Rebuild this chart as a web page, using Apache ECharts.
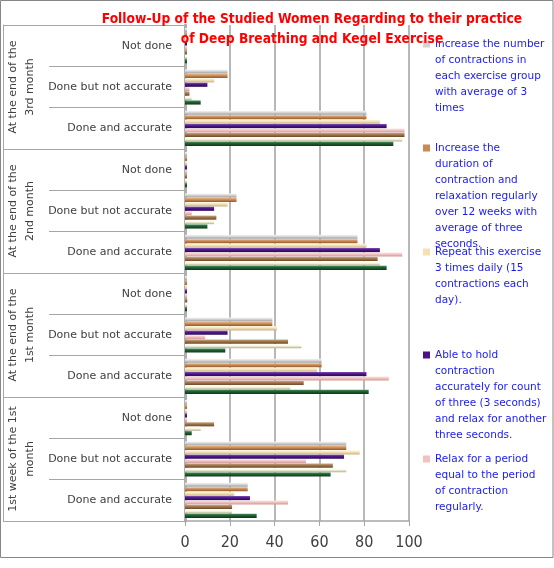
<!DOCTYPE html>
<html>
<head>
<meta charset="utf-8">
<script src="https://cdn.jsdelivr.net/npm/echarts@6/dist/echarts.min.js"></script>
<style>
  html, body { margin: 0; padding: 0; background: #fff; }
  #main { width: 554px; height: 568px; }
</style>
</head>
<body>
<div id="main"></div>
<script>
// categories (bottom to top, as drawn)
var groupLabels = [
  "1st week of the 1st\nmonth",
  "At the end of the\n1st month",
  "At the end of the\n2nd month",
  "At the end of the\n3rd month"
];
var subLabels = ["Done and accurate", "Done but not accurate", "Not done"];

// series names (top bar of each cluster first)
var seriesNames = [
  "Increase the number of contractions in each exercise group with average of 3 times",
  "Increase the duration of contraction and relaxation regularly over 12 weeks with average of three seconds.",
  "Repeat this exercise 3 times daily (15 contractions each day).",
  "Able to hold contraction accurately for count of three (3 seconds) and relax for another three seconds.",
  "Relax for a period equal to the period of contraction regularly.",
  "Item 6",
  "Item 7",
  "Item 8"
];
// legend text as it wraps in the picture
var legendLines = [
  ["Increase the number", "of contractions in", "each exercise group", "with average of 3", "times"],
  ["Increase the", "duration of", "contraction and", "relaxation regularly", "over 12 weeks with", "average of three", "seconds."],
  ["Repeat this exercise", "3 times daily (15", "contractions each", "day)."],
  ["Able to hold", "contraction", "accurately for count", "of three (3 seconds)", "and relax for another", "three seconds."],
  ["Relax for a period", "equal to the period", "of contraction", "regularly."]
];

// values (%), order: 1st week [DA, DBNA, ND], 1st month [...], 2nd month [...], 3rd month [...]
var increaseNumber   = [28, 72, 0, 61, 39, 0, 77, 23, 0, 81, 19, 0];
var increaseDuration = [28, 72, 0, 61, 39, 0, 77, 23, 0, 81, 19, 0];
var repeatDaily      = [22, 78, 0, 59, 41, 0, 81, 19, 0, 87, 13, 0];
var ableToHold       = [29, 71, 0, 81, 19, 0, 87, 13, 0, 90, 10, 0];
var relaxPeriod      = [46, 54, 0, 91, 9, 0, 97, 3, 0, 98, 2, 0];
var item6            = [21, 66, 13, 53, 46, 1, 86, 14, 0, 98, 2, 0];
var item7            = [21, 72, 7, 47, 52, 1, 87, 13, 0, 97, 3, 0];
var item8            = [32, 65, 3, 82, 18, 0, 90, 10, 0, 93, 7, 0];
var seriesValues = [increaseNumber, increaseDuration, repeatDaily, ableToHold, relaxPeriod, item6, item7, item8];

var xTicks = { min: 0, max: 100, interval: 20 };

// shades: highlight, base, shadow
var shades = [
  ["#f6f6f6", "#d4d4d4", "#9a9a9a"],
  ["#e9b68a", "#c98a55", "#8f5a2e"],
  ["#fff7df", "#f3e1b3", "#c6b285"],
  ["#7c4cb2", "#4b1486", "#2c0a52"],
  ["#fde6e4", "#f2c2bf", "#c99894"],
  ["#cba57e", "#9e744a", "#6b4a2a"],
  ["#ffffff", "#fbf7df", "#b3ae95"],
  ["#43905a", "#1f5c30", "#0f3a1b"]
];
var legendTops = [31, 135, 239, 342, 446];

var categories = [];
groupLabels.forEach(function () {
  subLabels.forEach(function (s) { categories.push(s); });
});

var lineGray = "#a6a6a6";
var labelFont = "'DejaVu Sans', sans-serif";
var narrowFont = "'Liberation Sans Narrow', 'DejaVu Sans Condensed', sans-serif";

var series = seriesNames.map(function (name, i) {
  return {
    name: name,
    type: "bar",
    yAxisIndex: 0,
    data: seriesValues[i],
    barCategoryGap: "15%",
    barGap: "8%",
    barMinHeight: 2,
    itemStyle: {
      color: new echarts.graphic.LinearGradient(0, 0, 0, 1, [
        { offset: 0, color: shades[i][0] },
        { offset: 0.45, color: shades[i][1] },
        { offset: 1, color: shades[i][2] }
      ])
    }
  };
});

var legends = legendLines.map(function (lines, i) {
  var h = lines.length * 16;
  return {
    data: [seriesNames[i]],
    left: 418,
    top: legendTops[i],
    orient: "vertical",
    selectedMode: false,
    itemWidth: 7,
    itemHeight: h,
    icon: "path://M0,0L0," + h + "M0,4.5L7,4.5L7,11.5L0,11.5Z",
    itemStyle: { color: shades[i][1], borderWidth: 0 },
    formatter: function () { return lines.join("\n"); },
    textStyle: {
      color: "#1a1af0",
      fontFamily: labelFont,
      fontSize: 10.5,
      lineHeight: 16
    }
  };
});

var myChart = echarts.init(document.getElementById("main"));
var option = {
  animation: false,
  backgroundColor: "#fff",
  title: {
    text: "Follow-Up of the Studied Women Regarding to their practice\nof Deep Breathing and Kegel Exercise",
    left: 307,
    top: 4,
    textAlign: "center",
    textStyle: {
      color: "#ff0000",
      fontFamily: narrowFont,
      fontWeight: "bold",
      fontSize: 13.7,
      lineHeight: 20
    }
  },
  legend: legends,
  grid: { left: 185, right: 145, top: 25, bottom: 47 },
  xAxis: {
    type: "value",
    min: xTicks.min,
    max: xTicks.max,
    interval: xTicks.interval,
    axisLine: { show: true, lineStyle: { color: lineGray, width: 1.5 } },
    axisTick: { show: true, length: 5, lineStyle: { color: lineGray } },
    axisLabel: { color: "#404040", fontFamily: narrowFont, fontSize: 16, margin: 14 },
    splitLine: { show: true, lineStyle: { color: "#a0a0a0", width: 1.5 } }
  },
  yAxis: [
    {
      type: "category",
      data: categories,
      position: "left",
      axisLine: { show: true, lineStyle: { color: "#b0b0b0", width: 3 } },
      axisTick: { show: true, length: 136, lineStyle: { color: lineGray } },
      axisLabel: { interval: 0, color: "#404040", fontFamily: labelFont, fontSize: 11, margin: 13 }
    },
    {
      type: "category",
      data: groupLabels,
      position: "left",
      axisLine: { show: false },
      axisTick: { show: true, length: 182, lineStyle: { color: lineGray } },
      axisLabel: {
        interval: 0,
        rotate: 90,
        color: "#404040",
        fontFamily: labelFont,
        fontSize: 11,
        lineHeight: 17,
        margin: 146
      }
    },
    {
      type: "category",
      data: groupLabels,
      position: "left",
      offset: 182,
      axisLine: { show: true, lineStyle: { color: lineGray } },
      axisTick: { show: false },
      axisLabel: { show: false }
    }
  ],
  graphic: [
    {
      type: "rect",
      shape: { x: 0.5, y: 0.5, width: 552.5, height: 557 },
      style: { fill: null, stroke: "#868686", lineWidth: 1 },
      silent: true
    }
  ],
  series: series
};
myChart.setOption(option);
</script>
</body>
</html>
